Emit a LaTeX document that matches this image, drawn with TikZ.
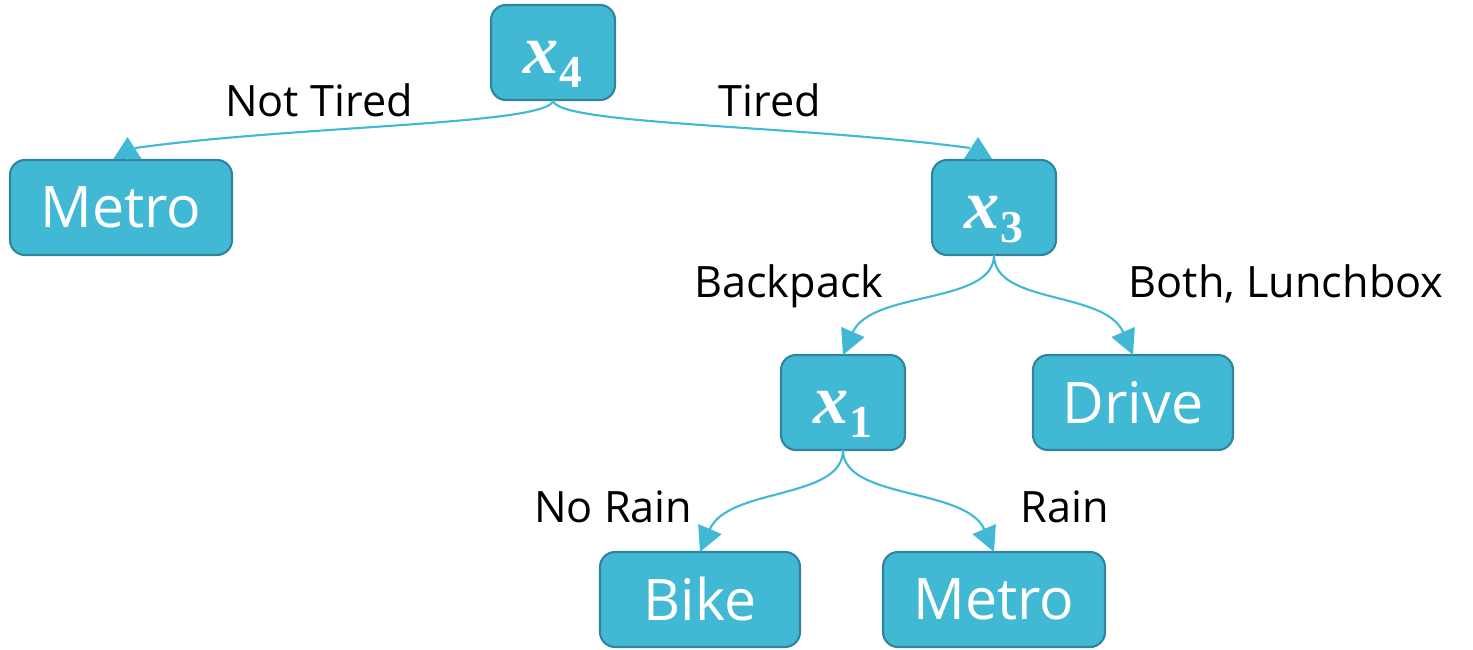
\documentclass[tikz,border=0pt]{standalone}
\usepackage{fontspec}
\setmainfont{Open Sans}
\newfontfamily\varfont{Liberation Serif}
\usetikzlibrary{arrows.meta,positioning}

\definecolor{boxfill}{RGB}{65,185,213}
\definecolor{boxline}{RGB}{49,133,155}

% bold italic x with a bold index below
\newcommand\xvar[1]{\raisebox{0pt}[0.42cm][0pt]{{\varfont\bfseries\itshape x}\kern0.3pt\raisebox{-0.14cm}{\varfont\bfseries\fontsize{13}{15}\selectfont #1}}}

\begin{document}
\begin{tikzpicture}[
  >=Triangle,
  node distance=6mm,
  box/.style={draw=boxline,line width=0.6pt,fill=boxfill,rounded corners=1.5mm,
              text=white,minimum height=9.5mm,inner sep=0pt,outer sep=0pt},
  decision/.style={box,minimum width=12.4mm,font=\fontsize{20}{22}\selectfont},
  leaf/.style={box,minimum width=20mm,font=\fontsize{16.3}{19}\selectfont},
  cond/.style={inner sep=0pt,font=\fontsize{12.3}{15}\selectfont},
  link/.style={boxfill,line width=0.6pt},
  uptip/.style={boxfill,-{Triangle[length=2.2mm,width=2.8mm]}},
  down/.style={link,-{Triangle[length=2.5mm,width=2.5mm]}}
]
  \useasboundingbox (0,0) rectangle (14.73,-6.49);

  % root and first level
  \node[decision] (x4) at (5.53,-0.525) {\xvar{4}};
  \node[leaf,minimum width=22.2mm,below=of x4,xshift=-43.2mm] (metroA) {Metro};
  \node[decision,below=of x4,xshift=44.1mm] (x3) {\xvar{3}};

  % second level
  \node[decision,below=10mm of x3,xshift=-15.1mm] (x1) {\xvar{1}};
  \node[leaf,below=10mm of x3,xshift=13.9mm] (drive) {Drive};

  % third level
  \node[leaf,below=10.2mm of x1,xshift=-14.3mm] (bike) {Bike};
  \node[leaf,minimum width=22.2mm,below=10.2mm of x1,xshift=15.1mm] (metroB) {Metro};

  % connectors from the root
  \draw[link] (x4.south) .. controls +(0,-0.25) and +(1.65,0.23) .. ([shift={(0.14,0.12)}]metroA.north);
  \draw[uptip] ([xshift=0.065cm]metroA.north) -- ++(0,0.23);
  \draw[link] (x4.south) .. controls +(0,-0.25) and +(-1.70,0.23) .. ([shift={(-0.24,0.12)}]x3.north);
  \draw[uptip] ([xshift=-0.16cm]x3.north) -- ++(0,0.23);

  % lower connectors
  \draw[down] (x3.south) .. controls +(0,-0.5) and +(0.28,0.65) .. (x1.north);
  \draw[down] (x3.south) .. controls +(0,-0.5) and +(-0.28,0.65) .. (drive.north);
  \draw[down] (x1.south) .. controls +(0,-0.5) and +(0.28,0.65) .. (bike.north);
  \draw[down] (x1.south) .. controls +(0,-0.5) and +(-0.28,0.65) .. (metroB.north);

  % branch labels
  \node[cond,anchor=base] (notTired) at ([shift={(-2.34,-0.16)}]x4.south) {Not Tired};
  \node[cond,anchor=base] (tired) at ([shift={(2.17,-0.16)}]x4.south) {Tired};
  \node[cond,anchor=base east] (backpack) at ([shift={(-1.10,-0.42)}]x3.south) {Backpack};
  \node[cond,anchor=base west] (lunch) at ([shift={(1.34,-0.42)}]x3.south) {Both, Lunchbox};
  \node[cond,anchor=base east] (noRain) at ([shift={(-1.50,-0.72)}]x1.south) {No Rain};
  \node[cond,anchor=base west] (rain) at ([shift={(1.77,-0.72)}]x1.south) {Rain};
\end{tikzpicture}
\end{document}
